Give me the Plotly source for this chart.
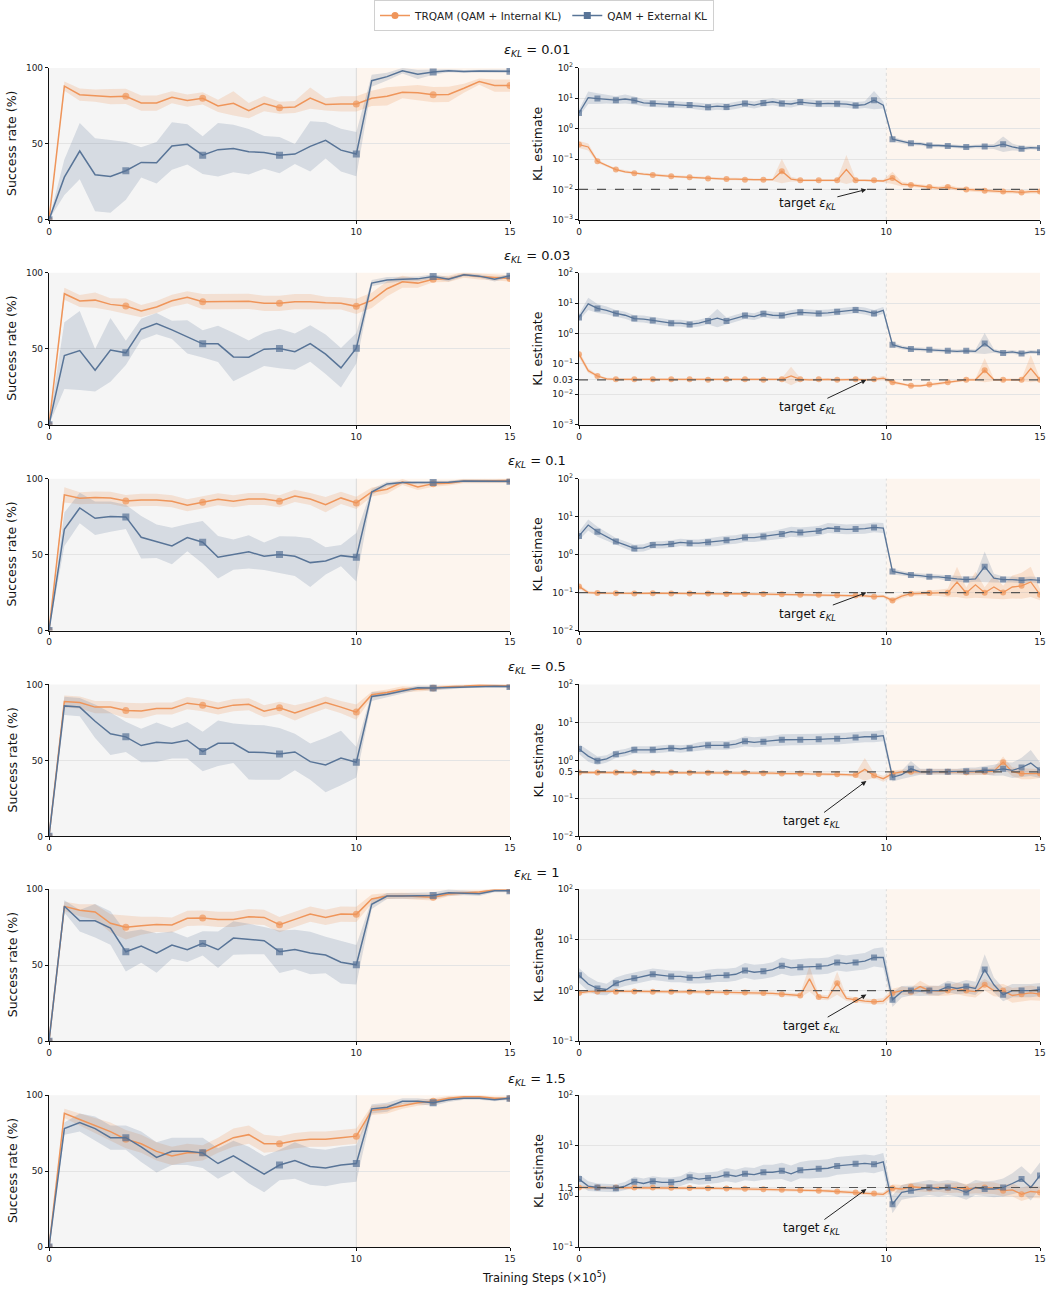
import math
import plotly.graph_objects as go

# ---------------- data ----------------
SR_STEPS = [0, 0.5, 1, 1.5, 2, 2.5, 3, 3.5, 4, 4.5, 5, 5.5, 6, 6.5, 7, 7.5, 8, 8.5, 9, 9.5,
            10, 10.5, 11, 11.5, 12, 12.5, 13, 13.5, 14, 14.5, 15]
KL_STEPS = [0, 0.3, 0.6, 0.9, 1.2, 1.5, 1.8, 2.1, 2.4, 2.7, 3.0, 3.3, 3.6, 3.9, 4.2, 4.5, 4.8,
            5.1, 5.4, 5.7, 6.0, 6.3, 6.6, 6.9, 7.2, 7.5, 7.8, 8.1, 8.4, 8.7, 9.0, 9.3, 9.6, 9.9,
            10.2, 10.5, 10.8, 11.1, 11.4, 11.7, 12.0, 12.3, 12.6, 12.9, 13.2, 13.5, 13.8, 14.1,
            14.4, 14.7, 15.0]
EPS_TARGETS = [0.01, 0.03, 0.1, 0.5, 1, 1.5]
EPS_LABELS = ["0.01", "0.03", "0.1", "0.5", "1", "1.5"]
KL_LOG_RANGES = [(-3, 2), (-3, 2), (-2, 2), (-2, 2), (-1, 2), (-1, 2)]

# success rate (%) : TRQAM (orange) and QAM + External KL (blue), mean and std
SR_TR_1 = [0, 88, 82.4, 81.8, 81.1, 81.3, 76.9, 76.9, 80.7, 78.5, 80, 75, 76.7, 71.9, 76.5, 73.8,
           74.3, 80.2, 76, 76.3, 76.3, 80, 81.3, 84, 83.7, 82.4, 82.6, 86.6, 91, 88.4, 88.4]
SD_TR_1 = [0, 3, 4, 4, 5, 5, 5, 5, 4, 4, 4, 4, 8, 5, 5, 4, 4, 7, 4, 5, 5, 5, 6, 4, 5, 5, 5, 3, 2, 4, 4]
SR_QE_1 = [0, 28.1, 45.3, 29.7, 28.6, 32.3, 37.8, 37.6, 48.6, 49.7, 42.6, 46.2, 47, 44.8, 44.4, 42.6,
           43.3, 48.4, 52.3, 45.9, 43.3, 91.6, 94.3, 98.2, 95.8, 97.4, 98.2, 97.6, 98, 97.8, 97.8]
SD_QE_1 = [0, 11.7, 18.5, 24, 24, 19, 10, 13.6, 15.7, 13.2, 12.5, 17.6, 15.6, 15, 10.8, 12, 6.6,
           16.5, 12, 14, 14.6, 4, 2.5, 1.8, 3, 1.8, 1, 1, 1, 1.2, 1.2]

SR_TR_2 = [0, 86.2, 81.4, 82, 79.2, 78.1, 74.8, 77.5, 81.6, 83.8, 81, 81, 81, 81.2, 79.9, 79.9,
           81, 81, 80.3, 79.9, 77.9, 81.8, 89.5, 94.1, 93.2, 95.8, 96, 98.7, 97.6, 96.9, 96.3]
SD_TR_2 = [0, 4, 4, 5, 4, 5, 4, 4, 4, 4, 5, 5, 5, 5, 5, 5, 5, 5, 4, 4, 5, 5, 5, 4, 3, 2, 2, 2, 2, 2, 2]
SR_QE_2 = [0, 45.5, 48.8, 35.9, 49.2, 47.3, 62.8, 66.5, 62.4, 57.8, 53.2, 53.2, 44.6, 44.4, 49.7,
           50.1, 48.1, 53.4, 46.4, 37.4, 50.3, 93.2, 95.2, 95.8, 96, 97.6, 95.8, 98.7, 97.8, 95.8, 98]
SD_QE_2 = [0, 22, 26, 14, 21, 8, 7, 7, 6, 11, 9, 12, 16, 11, 11, 13, 12, 12, 13, 13, 10, 2, 2, 1.5,
           1.5, 1.5, 1.5, 1, 1, 1.5, 1]

SR_TR_3 = [0, 89.3, 87.1, 87.5, 87.3, 85.3, 86, 86, 85.1, 82.5, 84.4, 86.4, 85.1, 86.6, 86.6, 85.1,
           88.6, 86.6, 82.9, 87.3, 84, 91.2, 93, 97.8, 94.5, 96.7, 96.9, 98.5, 98.5, 98.5, 98.7]
SD_TR_3 = [0, 5, 4, 4, 4, 4, 4, 4, 4, 4, 4, 4, 4, 4, 4, 4, 4, 4, 5, 4, 4, 3, 3, 2, 2, 2, 1.5, 1.5,
           1.5, 1.5, 1.5]
SR_QE_3 = [0, 66.7, 80.7, 73.9, 75, 74.8, 61.4, 58.8, 55.7, 61.2, 58.1, 48.2, 50, 51.8, 48.9, 50,
           48.9, 44.7, 45.8, 49.3, 48.2, 91.2, 96.5, 97.4, 97.4, 97.4, 97.6, 98.5, 98.5, 98.5, 98.2]
SD_QE_3 = [0, 11, 10, 11, 10, 8, 14, 11, 12, 9, 14, 14, 10, 11, 9, 12, 13, 16, 9, 7, 16, 2, 1.5, 1,
           1, 1, 1, 1, 1, 1, 1]

SR_TR_4 = [0, 88.8, 88.1, 85.1, 85.1, 82.9, 82.6, 84.2, 84.2, 87.7, 86.4, 84.2, 86.4, 87, 82.4,
           84.6, 81.3, 84.6, 88.1, 85.1, 81.8, 93.2, 94.7, 96.9, 96.9, 97.6, 98.5, 98.9, 99.6, 99.3, 99.1]
SD_TR_4 = [0, 4, 4, 4, 4, 5, 5, 4, 4, 4, 4, 4, 4, 4, 4, 4, 5, 4, 4, 4, 5, 2, 2, 2, 1.5, 1.5, 1, 1,
           1, 1, 1]
SR_QE_4 = [0, 85.9, 85.1, 75.8, 67.5, 65.5, 59.8, 62, 61.3, 63.3, 55.8, 61.3, 61.3, 55.4, 55.2,
           54.3, 55.6, 49.2, 47, 51.6, 48.8, 92.1, 93.6, 95.6, 97.8, 97.6, 98, 98.5, 98.9, 98.9, 98.7]
SD_QE_4 = [0, 6, 6, 11, 14, 10, 11, 13, 10, 12, 13, 15, 13, 18, 18, 17, 12, 12, 18, 18, 10, 3, 2,
           1.5, 1.5, 1.5, 1, 1, 1, 1, 1]

SR_TR_5 = [0, 88.8, 86.2, 85.1, 77.6, 75, 76, 76.9, 76.5, 80.9, 81.1, 80.2, 80.2, 82, 81.5, 76.7,
           80.2, 83.7, 81.5, 83.7, 83.5, 93.6, 95.6, 95.8, 95.2, 94.7, 96.9, 97.6, 98.2, 99.6, 99.6]
SD_TR_5 = [0, 3, 4, 5, 6, 8, 6, 5, 5, 5, 5, 5, 5, 5, 5, 5, 5, 5, 5, 5, 5, 3, 2, 2, 2, 2, 1.5, 1.5,
           1, 1, 1]
SR_QE_5 = [0, 88.8, 79.3, 79.3, 74.5, 58.9, 62.6, 58, 63.3, 60.2, 64.4, 60.2, 67.9, 67.3, 66.2,
           58.9, 60.4, 58, 56.7, 52, 50.3, 90.1, 95.6, 95.6, 96, 96, 97.8, 97.6, 97.1, 99.1, 99.1]
SD_QE_5 = [0, 4, 7, 11, 11, 13, 11, 13, 9, 8, 8, 12, 11, 10, 9, 14, 13, 14, 12, 14, 13, 3, 2, 2, 2,
           2, 2, 1.5, 1.5, 1, 1]

SR_TR_6 = [0, 88, 84, 80, 76, 71, 68, 63, 60, 62, 62, 67, 72, 74, 68, 68, 70, 71, 71, 72, 73, 90,
           91, 93, 95, 96, 98, 99, 99, 98, 98]
SD_TR_6 = [0, 3, 4, 5, 6, 6, 6, 6, 6, 6, 5, 5, 6, 6, 6, 5, 5, 5, 5, 5, 5, 3, 3, 2, 2, 2, 1.5, 1, 1,
           1, 1]
SR_QE_6 = [0, 78, 82, 78, 72, 72, 66, 59, 63, 63, 62, 55, 60, 54, 48, 54, 57, 53, 52, 54, 55, 91,
           92, 96, 96, 95, 97, 98, 98, 97, 98]
SD_QE_6 = [0, 4, 6, 8, 8, 8, 10, 10, 9, 9, 10, 10, 10, 12, 12, 10, 12, 12, 12, 12, 12, 3, 3, 2, 2,
           2, 1.5, 1, 1, 1, 1]

# KL estimate, mean and multiplicative band factor
KL_TR_1 = [0.30, 0.25, 0.085, 0.06, 0.045, 0.038, 0.034, 0.032, 0.030, 0.028,
           0.027, 0.026, 0.025, 0.024, 0.023, 0.023, 0.022, 0.022, 0.021, 0.021,
           0.021, 0.021, 0.040, 0.022, 0.020, 0.020, 0.020, 0.020, 0.020, 0.045,
           0.020, 0.020, 0.020, 0.019, 0.024, 0.015, 0.014, 0.013, 0.012, 0.011,
           0.012, 0.0105, 0.010, 0.0095, 0.009, 0.0088, 0.0085, 0.0085, 0.008, 0.0085, 0.0085]
KB_TR_1 = [1.3, 1.3, 1.15, 1.1, 1.1, 1.1, 1.1, 1.1, 1.1, 1.1,
           1.1, 1.1, 1.1, 1.1, 1.1, 1.1, 1.1, 1.1, 1.1, 1.1,
           1.1, 1.1, 2.5, 1.2, 1.1, 1.1, 1.1, 1.1, 1.1, 3.0,
           1.1, 1.1, 1.1, 1.1, 1.6, 1.2, 1.15, 1.15, 1.15, 1.15,
           1.2, 1.15, 1.15, 1.15, 1.15, 1.15, 1.15, 1.15, 1.15, 1.15, 1.15]
KL_QE_1 = [3.3, 10.5, 9.8, 9.5, 8.7, 9.5, 8.5, 7.1, 6.8, 6.6,
           6.4, 6.2, 6.0, 5.5, 5.1, 5.5, 5.2, 5.8, 6.7, 6.0,
           7.0, 7.7, 6.8, 6.5, 7.5, 7.0, 6.6, 6.8, 6.6, 6.4,
           5.8, 6.2, 8.7, 6.0, 0.45, 0.38, 0.33, 0.32, 0.28, 0.28,
           0.27, 0.26, 0.25, 0.26, 0.26, 0.26, 0.31, 0.25, 0.22, 0.24, 0.23]
KB_QE_1 = [1.3, 1.6, 1.5, 1.4, 1.35, 1.4, 1.35, 1.3, 1.3, 1.3,
           1.3, 1.3, 1.3, 1.3, 1.3, 1.3, 1.3, 1.3, 1.3, 1.3,
           1.3, 1.3, 1.3, 1.3, 1.3, 1.3, 1.3, 1.3, 1.3, 1.3,
           1.3, 1.3, 2.0, 1.3, 1.2, 1.15, 1.15, 1.15, 1.15, 1.15,
           1.15, 1.15, 1.15, 1.15, 1.15, 1.2, 1.8, 1.3, 1.2, 1.15, 1.15]

KL_TR_2 = [0.21, 0.06, 0.040, 0.032, 0.031, 0.031, 0.031, 0.030, 0.031, 0.031,
           0.031, 0.030, 0.031, 0.031, 0.030, 0.031, 0.031, 0.030, 0.031, 0.031,
           0.030, 0.031, 0.031, 0.040, 0.031, 0.030, 0.031, 0.031, 0.030, 0.031,
           0.031, 0.030, 0.031, 0.034, 0.025, 0.022, 0.019, 0.019, 0.021, 0.022,
           0.025, 0.028, 0.030, 0.030, 0.062, 0.030, 0.030, 0.030, 0.030, 0.070, 0.030]
KB_TR_2 = [1.3, 1.2, 1.1, 1.1, 1.1, 1.1, 1.1, 1.1, 1.1, 1.1,
           1.1, 1.1, 1.1, 1.1, 1.1, 1.1, 1.1, 1.1, 1.1, 1.1,
           1.1, 1.1, 1.1, 2.0, 1.1, 1.1, 1.1, 1.1, 1.1, 1.1,
           1.1, 1.1, 1.1, 1.2, 1.15, 1.1, 1.1, 1.1, 1.1, 1.1,
           1.1, 1.1, 1.1, 1.1, 2.5, 1.1, 1.1, 1.1, 1.1, 2.8, 1.1]
KL_QE_2 = [3.4, 9.5, 6.7, 5.8, 4.6, 4.0, 3.1, 3.0, 2.7, 2.5,
           2.2, 2.2, 2.0, 2.2, 2.6, 3.2, 2.6, 3.2, 3.9, 3.6,
           4.5, 4.0, 3.9, 4.5, 5.0, 4.8, 4.6, 4.8, 5.2, 5.4,
           6.0, 5.5, 4.6, 5.8, 0.43, 0.35, 0.31, 0.30, 0.29, 0.27,
           0.27, 0.26, 0.27, 0.26, 0.47, 0.27, 0.23, 0.25, 0.22, 0.25, 0.24]
KB_QE_2 = [1.3, 1.6, 1.4, 1.35, 1.3, 1.3, 1.3, 1.3, 1.3, 1.3,
           1.3, 1.3, 1.3, 1.3, 1.3, 2.0, 1.3, 1.3, 1.3, 1.3,
           1.3, 1.3, 1.3, 1.3, 1.3, 1.3, 1.3, 1.3, 1.3, 1.3,
           1.3, 1.3, 1.3, 1.3, 1.2, 1.15, 1.15, 1.15, 1.15, 1.15,
           1.15, 1.15, 1.15, 1.15, 2.2, 1.15, 1.15, 1.15, 1.15, 1.15, 1.15]

KL_TR_3 = [0.145, 0.10, 0.097, 0.096, 0.096, 0.095, 0.095, 0.095, 0.096, 0.095,
           0.094, 0.095, 0.094, 0.093, 0.094, 0.093, 0.092, 0.093, 0.092, 0.091,
           0.092, 0.090, 0.090, 0.089, 0.088, 0.089, 0.087, 0.086, 0.085, 0.084,
           0.083, 0.082, 0.078, 0.080, 0.062, 0.080, 0.093, 0.096, 0.097, 0.098,
           0.098, 0.19, 0.097, 0.16, 0.099, 0.14, 0.10, 0.14, 0.15, 0.19, 0.088]
KB_TR_3 = [1.15, 1.1, 1.08, 1.08, 1.08, 1.08, 1.08, 1.08, 1.08, 1.08,
           1.08, 1.08, 1.08, 1.08, 1.08, 1.08, 1.08, 1.08, 1.08, 1.08,
           1.08, 1.08, 1.08, 1.08, 1.08, 1.08, 1.08, 1.08, 1.08, 1.08,
           1.1, 1.1, 1.1, 1.1, 1.15, 1.15, 1.15, 1.15, 1.2, 1.2,
           1.3, 2.5, 1.4, 2.2, 1.4, 2.0, 1.5, 2.0, 2.2, 2.5, 1.4]
KL_QE_3 = [3.1, 6.0, 4.0, 3.0, 2.2, 1.8, 1.45, 1.5, 1.8, 1.8,
           1.9, 2.1, 2.0, 2.0, 2.1, 2.2, 2.4, 2.5, 2.8, 2.8,
           3.0, 3.2, 3.5, 4.0, 3.8, 4.0, 4.2, 5.0, 4.7, 4.6,
           4.7, 4.8, 5.2, 5.0, 0.36, 0.32, 0.29, 0.28, 0.26, 0.26,
           0.24, 0.23, 0.22, 0.23, 0.48, 0.24, 0.22, 0.22, 0.21, 0.22, 0.21]
KB_QE_3 = [1.3, 1.4, 1.35, 1.3, 1.25, 1.25, 1.25, 1.25, 1.25, 1.25,
           1.25, 1.25, 1.25, 1.25, 1.3, 1.3, 1.3, 1.3, 1.3, 1.3,
           1.3, 1.3, 1.35, 1.35, 1.35, 1.35, 1.35, 1.35, 1.35, 1.35,
           1.35, 1.35, 1.35, 1.35, 1.2, 1.15, 1.15, 1.15, 1.15, 1.15,
           1.2, 1.2, 1.2, 1.2, 2.5, 1.3, 1.2, 1.2, 1.2, 1.2, 1.2]

KL_QE_4 = [2.0, 1.3, 0.98, 1.1, 1.45, 1.6, 1.9, 1.9, 1.9, 2.0,
           2.1, 2.0, 2.1, 2.3, 2.5, 2.5, 2.5, 2.7, 3.2, 3.0,
           3.1, 3.3, 3.5, 3.5, 3.5, 3.6, 3.6, 3.7, 3.7, 3.8,
           4.0, 4.2, 4.2, 4.5, 0.36, 0.42, 0.60, 0.50, 0.50, 0.50,
           0.50, 0.50, 0.52, 0.52, 0.55, 0.55, 0.60, 0.55, 0.65, 0.85, 0.55]
KB_QE_4 = [1.35, 1.4, 1.3, 1.25, 1.25, 1.25, 1.25, 1.25, 1.25, 1.25,
           1.25, 1.25, 1.25, 1.3, 1.3, 1.3, 1.3, 1.3, 1.35, 1.35,
           1.35, 1.35, 1.4, 1.4, 1.4, 1.4, 1.4, 1.4, 1.4, 1.4,
           1.4, 1.4, 1.4, 1.4, 1.3, 1.3, 1.6, 1.2, 1.2, 1.2,
           1.2, 1.2, 1.25, 1.25, 1.3, 1.4, 1.5, 1.6, 1.8, 2.2, 1.6]
KL_TR_4 = [0.48, 0.48, 0.48, 0.48, 0.48, 0.48, 0.48, 0.48, 0.47, 0.48,
           0.48, 0.47, 0.47, 0.48, 0.47, 0.47, 0.47, 0.46, 0.47, 0.46,
           0.46, 0.46, 0.45, 0.46, 0.45, 0.44, 0.44, 0.43, 0.43, 0.42,
           0.41, 0.58, 0.40, 0.33, 0.45, 0.50, 0.50, 0.50, 0.50, 0.50,
           0.50, 0.50, 0.49, 0.49, 0.50, 0.52, 0.90, 0.50, 0.45, 0.45, 0.45]
KB_TR_4 = [1.1, 1.08, 1.08, 1.08, 1.08, 1.08, 1.08, 1.08, 1.08, 1.08,
           1.08, 1.08, 1.08, 1.08, 1.08, 1.08, 1.08, 1.08, 1.08, 1.08,
           1.1, 1.1, 1.1, 1.1, 1.1, 1.1, 1.1, 1.1, 1.1, 1.1,
           1.12, 2.0, 1.15, 1.2, 1.2, 1.15, 1.15, 1.15, 1.15, 1.15,
           1.15, 1.15, 1.2, 1.2, 1.2, 1.25, 1.4, 1.3, 1.4, 1.4, 1.3]

KL_QE_5 = [2.0, 1.35, 1.1, 1.05, 1.4, 1.6, 1.75, 1.9, 2.1, 2.0,
           1.9, 1.9, 1.8, 1.8, 1.9, 2.0, 2.0, 2.1, 2.5, 2.3,
           2.4, 2.6, 3.1, 2.8, 2.9, 3.0, 3.0, 3.1, 3.6, 3.4,
           3.6, 3.8, 4.5, 4.5, 0.66, 0.95, 1.0, 0.98, 1.0, 1.0,
           1.2, 1.1, 1.2, 1.1, 2.6, 1.3, 0.83, 1.0, 1.0, 1.0, 1.05]
KB_QE_5 = [1.4, 1.4, 1.35, 1.3, 1.3, 1.3, 1.3, 1.3, 1.3, 1.3,
           1.3, 1.3, 1.3, 1.3, 1.35, 1.35, 1.35, 1.35, 1.4, 1.4,
           1.4, 1.4, 1.45, 1.45, 1.45, 1.45, 1.45, 1.45, 1.45, 1.45,
           1.45, 1.45, 1.5, 1.6, 1.4, 1.3, 1.25, 1.25, 1.25, 1.25,
           1.3, 1.3, 1.35, 1.35, 2.0, 1.4, 1.35, 1.35, 1.35, 1.35, 1.35]
KL_TR_5 = [0.90, 0.95, 0.96, 0.97, 0.95, 0.96, 0.96, 0.95, 0.95, 0.94,
           0.95, 0.94, 0.95, 0.94, 0.93, 0.93, 0.93, 0.92, 0.92, 0.91,
           0.90, 0.88, 0.85, 0.82, 0.80, 1.7, 0.75, 0.72, 1.4, 0.70,
           0.65, 0.62, 0.60, 0.62, 0.90, 1.0, 0.95, 1.2, 1.0, 0.98,
           1.0, 1.1, 1.0, 0.95, 1.3, 1.0, 1.0, 0.80, 0.85, 0.90, 0.85]
KB_TR_5 = [1.1, 1.08, 1.08, 1.08, 1.08, 1.08, 1.08, 1.08, 1.08, 1.08,
           1.08, 1.08, 1.08, 1.08, 1.08, 1.08, 1.08, 1.08, 1.08, 1.08,
           1.1, 1.1, 1.1, 1.1, 1.1, 1.8, 1.12, 1.12, 1.7, 1.12,
           1.12, 1.12, 1.12, 1.15, 1.2, 1.2, 1.2, 1.3, 1.25, 1.25,
           1.25, 1.3, 1.3, 1.3, 1.3, 1.3, 1.35, 1.4, 1.4, 1.4, 1.35]

KL_QE_6 = [2.2, 1.6, 1.5, 1.45, 1.45, 1.6, 1.95, 1.8, 2.0, 1.9,
           1.9, 2.0, 2.4, 2.2, 2.3, 2.4, 2.7, 2.5, 2.8, 2.7,
           3.0, 3.0, 3.2, 2.8, 3.3, 3.4, 3.5, 3.6, 4.0, 4.2,
           4.4, 4.5, 4.3, 4.8, 0.7, 1.2, 1.3, 1.4, 1.5, 1.4,
           1.5, 1.4, 1.2, 1.5, 1.4, 1.4, 1.5, 1.8, 2.2, 1.5, 2.6]
KB_QE_6 = [1.25, 1.25, 1.2, 1.2, 1.2, 1.2, 1.25, 1.25, 1.25, 1.25,
           1.25, 1.25, 1.3, 1.3, 1.3, 1.3, 1.35, 1.35, 1.35, 1.35,
           1.4, 1.4, 1.45, 1.45, 1.45, 1.5, 1.5, 1.5, 1.5, 1.5,
           1.5, 1.5, 1.5, 1.5, 1.5, 1.4, 1.4, 1.4, 1.4, 1.4,
           1.4, 1.4, 1.4, 1.4, 1.4, 1.45, 1.5, 1.6, 1.8, 1.8, 1.8]
KL_TR_6 = [1.5, 1.5, 1.5, 1.5, 1.5, 1.5, 1.5, 1.5, 1.5, 1.48,
           1.48, 1.47, 1.46, 1.45, 1.45, 1.44, 1.43, 1.42, 1.41, 1.40,
           1.38, 1.37, 1.36, 1.35, 1.33, 1.32, 1.30, 1.28, 1.25, 1.22,
           1.20, 1.17, 1.14, 1.10, 1.45, 1.40, 1.55, 1.50, 1.45, 1.50,
           1.45, 1.50, 1.40, 1.45, 1.50, 1.45, 1.30, 1.35, 1.10, 1.25, 1.20]
KB_TR_6 = [1.08, 1.08, 1.08, 1.08, 1.08, 1.08, 1.08, 1.08, 1.08, 1.08,
           1.08, 1.08, 1.08, 1.08, 1.08, 1.08, 1.08, 1.08, 1.08, 1.08,
           1.08, 1.08, 1.08, 1.08, 1.08, 1.08, 1.08, 1.08, 1.08, 1.08,
           1.1, 1.1, 1.1, 1.1, 1.2, 1.2, 1.2, 1.2, 1.2, 1.2,
           1.25, 1.25, 1.25, 1.25, 1.3, 1.3, 1.3, 1.35, 1.35, 1.35, 1.3]

SR_TR = [SR_TR_1, SR_TR_2, SR_TR_3, SR_TR_4, SR_TR_5, SR_TR_6]
SD_TR = [SD_TR_1, SD_TR_2, SD_TR_3, SD_TR_4, SD_TR_5, SD_TR_6]
SR_QE = [SR_QE_1, SR_QE_2, SR_QE_3, SR_QE_4, SR_QE_5, SR_QE_6]
SD_QE = [SD_QE_1, SD_QE_2, SD_QE_3, SD_QE_4, SD_QE_5, SD_QE_6]
KL_TR = [KL_TR_1, KL_TR_2, KL_TR_3, KL_TR_4, KL_TR_5, KL_TR_6]
KB_TR = [KB_TR_1, KB_TR_2, KB_TR_3, KB_TR_4, KB_TR_5, KB_TR_6]
KL_QE = [KL_QE_1, KL_QE_2, KL_QE_3, KL_QE_4, KL_QE_5, KL_QE_6]
KB_QE = [KB_QE_1, KB_QE_2, KB_QE_3, KB_QE_4, KB_QE_5, KB_QE_6]

# ---------------- style ----------------
W, H = 1052, 1291
FONT = "DejaVu Sans"
ORANGE = "#EF955A"
BLUE = "#587497"
ORANGE_BAND = "rgba(239,149,90,0.22)"
BLUE_BAND = "rgba(88,116,151,0.20)"
BG_PRE = "#F5F5F5"
BG_POST = "#FDF5EE"
ROW_TOPS = [67, 272, 478, 684, 889, 1095]
PLOT_H = 152
LEFT_X = (49, 510)
RIGHT_X = (579, 1040)
TITLE_Y = [50, 256, 461, 667, 873, 1079]
ARROW_TIP_DY = [0, 0, 0, -0.24, -0.08, -0.03]   # decades
ARROW_OFF = [(-59, 15), (-59, 28), (-59, 22), (-55, 41), (-55, 32), (-55, 40)]

fig = go.Figure()
layout = dict(width=W, height=H, margin=dict(l=0, r=0, t=0, b=0),
              paper_bgcolor="white", plot_bgcolor="rgba(0,0,0,0)",
              font=dict(family=FONT, size=9, color="#222"),
              showlegend=True)
shapes = []
annotations = []


def sup(e):
    return "10<sup>%s</sup>" % str(e).replace("-", "\u2212")


def paper_text(x_px, y_px, text, size, angle=0):
    return dict(x=x_px / W, y=1 - y_px / H, xref="paper", yref="paper", text=text,
                textangle=angle, showarrow=False, xanchor="center", yanchor="middle",
                font=dict(size=size, color="#111"))


for r in range(6):
    top = ROW_TOPS[r]
    ydom = [1 - (top + PLOT_H) / H, 1 - top / H]
    for c in range(2):
        idx = 2 * r + c + 1
        xa = "xaxis" if idx == 1 else "xaxis%d" % idx
        ya = "yaxis" if idx == 1 else "yaxis%d" % idx
        xr = "x" if idx == 1 else "x%d" % idx
        yr = "y" if idx == 1 else "y%d" % idx
        px = LEFT_X if c == 0 else RIGHT_X
        layout[xa] = dict(domain=[px[0] / W, px[1] / W], anchor=yr, range=[0, 15],
                          tickvals=[0, 10, 15], ticktext=["0", "10", "15"],
                          showline=True, linecolor="#111", linewidth=1.2,
                          ticks="outside", ticklen=3, tickcolor="#111",
                          showgrid=False, zeroline=False, automargin=False,
                          tickfont=dict(size=9))
        if c == 0:
            layout[ya] = dict(domain=ydom, anchor=xr, range=[0, 100],
                              tickvals=[0, 50, 100], showline=True, linecolor="#111",
                              linewidth=1.2, ticks="outside", ticklen=3, tickcolor="#111",
                              showgrid=True, gridcolor="#E4E4E4", gridwidth=1,
                              zeroline=False, automargin=False, tickfont=dict(size=9))
        else:
            lo, hi = KL_LOG_RANGES[r]
            tv = [10 ** e for e in range(lo, hi + 1)]
            tt = [sup(e) for e in range(lo, hi + 1)]
            t = EPS_TARGETS[r]
            if abs(math.log10(t) - round(math.log10(t))) > 1e-6:
                tv.append(t)
                tt.append(EPS_LABELS[r])
            layout[ya] = dict(domain=ydom, anchor=xr, type="log", range=[lo, hi],
                              tickvals=tv, ticktext=tt, showline=True, linecolor="#111",
                              linewidth=1.2, ticks="outside", ticklen=3, tickcolor="#111",
                              showgrid=True, gridcolor="#E4E4E4", gridwidth=1,
                              zeroline=False, automargin=False, tickfont=dict(size=9))
        # background shading
        shapes.append(dict(type="rect", xref=xr, yref=yr + " domain", x0=0, x1=10, y0=0, y1=1,
                           fillcolor=BG_PRE, line=dict(width=0), layer="below"))
        shapes.append(dict(type="rect", xref=xr, yref=yr + " domain", x0=10, x1=15, y0=0, y1=1,
                           fillcolor=BG_POST, line=dict(width=0), layer="below"))
        shapes.append(dict(type="line", xref=xr, yref=yr + " domain", x0=10, x1=10, y0=0, y1=1,
                           line=dict(color="#DADADA", width=1, dash="solid" if c == 0 else "dot"),
                           layer="below"))

        if c == 0:
            series = [(SR_TR[r], SD_TR[r], ORANGE, ORANGE_BAND, "circle"),
                      (SR_QE[r], SD_QE[r], BLUE, BLUE_BAND, "square")]
            for mean, sd, col, band, sym in series:
                lower = [m - s for m, s in zip(mean, sd)]
                upper = [m + s for m, s in zip(mean, sd)]
                fig.add_trace(go.Scatter(x=SR_STEPS, y=lower, xaxis=xr, yaxis=yr, mode="lines",
                                         line=dict(width=0), showlegend=False, hoverinfo="skip"))
                fig.add_trace(go.Scatter(x=SR_STEPS, y=upper, xaxis=xr, yaxis=yr, mode="lines",
                                         line=dict(width=0), fill="tonexty", fillcolor=band,
                                         showlegend=False, hoverinfo="skip"))
            for mean, sd, col, band, sym in series:
                sizes = [7 if i % 5 == 0 else 0 for i in range(len(mean))]
                fig.add_trace(go.Scatter(x=SR_STEPS, y=mean, xaxis=xr, yaxis=yr,
                                         mode="lines+markers", line=dict(color=col, width=1.5),
                                         marker=dict(symbol=sym, size=sizes, color=col,
                                                     line=dict(width=0)),
                                         showlegend=False))
            annotations.append(paper_text(12, top + PLOT_H / 2, "Success rate (%)", 12.5, -90))
        else:
            series = [(KL_TR[r], KB_TR[r], ORANGE, ORANGE_BAND, "circle"),
                      (KL_QE[r], KB_QE[r], BLUE, BLUE_BAND, "square")]
            for mean, fac, col, band, sym in series:
                lower = [m / f for m, f in zip(mean, fac)]
                upper = [m * f for m, f in zip(mean, fac)]
                fig.add_trace(go.Scatter(x=KL_STEPS, y=lower, xaxis=xr, yaxis=yr, mode="lines",
                                         line=dict(width=0), showlegend=False, hoverinfo="skip"))
                fig.add_trace(go.Scatter(x=KL_STEPS, y=upper, xaxis=xr, yaxis=yr, mode="lines",
                                         line=dict(width=0), fill="tonexty", fillcolor=band,
                                         showlegend=False, hoverinfo="skip"))
            for mean, fac, col, band, sym in series:
                sizes = [6 if i % 2 == 0 else 0 for i in range(len(mean))]
                fig.add_trace(go.Scatter(x=KL_STEPS, y=mean, xaxis=xr, yaxis=yr,
                                         mode="lines+markers", line=dict(color=col, width=1.3),
                                         marker=dict(symbol=sym, size=sizes, color=col,
                                                     line=dict(width=0)),
                                         showlegend=False))
            t = EPS_TARGETS[r]
            fig.add_trace(go.Scatter(x=[0, 15], y=[t, t], xaxis=xr, yaxis=yr, mode="lines",
                                     line=dict(color="#555", width=1.2, dash="dash"),
                                     showlegend=False, hoverinfo="skip"))
            ax, ay = ARROW_OFF[r]
            annotations.append(dict(x=9.35, y=math.log10(t) + ARROW_TIP_DY[r], xref=xr, yref=yr,
                                    text="target <i>\u03b5</i><sub><i>KL</i></sub>",
                                    showarrow=True, arrowhead=2, arrowsize=1, arrowwidth=1,
                                    arrowcolor="#222", ax=ax, ay=ay,
                                    font=dict(size=12, color="#111")))
            annotations.append(paper_text(538, top + PLOT_H / 2, "KL estimate", 12.5, -90))
    annotations.append(paper_text(537, TITLE_Y[r],
                                  "<i>\u03b5</i><sub><i>KL</i></sub> = " + EPS_LABELS[r], 13))

annotations.append(paper_text(544, 1277, "Training Steps (\u00d710<sup>5</sup>)", 11.5))

# legend-only traces
fig.add_trace(go.Scatter(x=[None], y=[None], mode="lines+markers", name="TRQAM (QAM + Internal KL)",
                         line=dict(color=ORANGE, width=1.5),
                         marker=dict(symbol="circle", size=7, color=ORANGE)))
fig.add_trace(go.Scatter(x=[None], y=[None], mode="lines+markers", name="QAM + External KL",
                         line=dict(color=BLUE, width=1.5),
                         marker=dict(symbol="square", size=7, color=BLUE)))

layout["legend"] = dict(orientation="h", x=544 / W, y=1 - 15 / H, xanchor="center",
                        yanchor="middle", bordercolor="#D0D0D0", borderwidth=1,
                        font=dict(size=10.5, color="#222"), bgcolor="white",
                        traceorder="normal", itemwidth=30, tracegroupgap=0)
layout["shapes"] = shapes
layout["annotations"] = annotations
fig.update_layout(**layout)
fig.write_html("out.html")
